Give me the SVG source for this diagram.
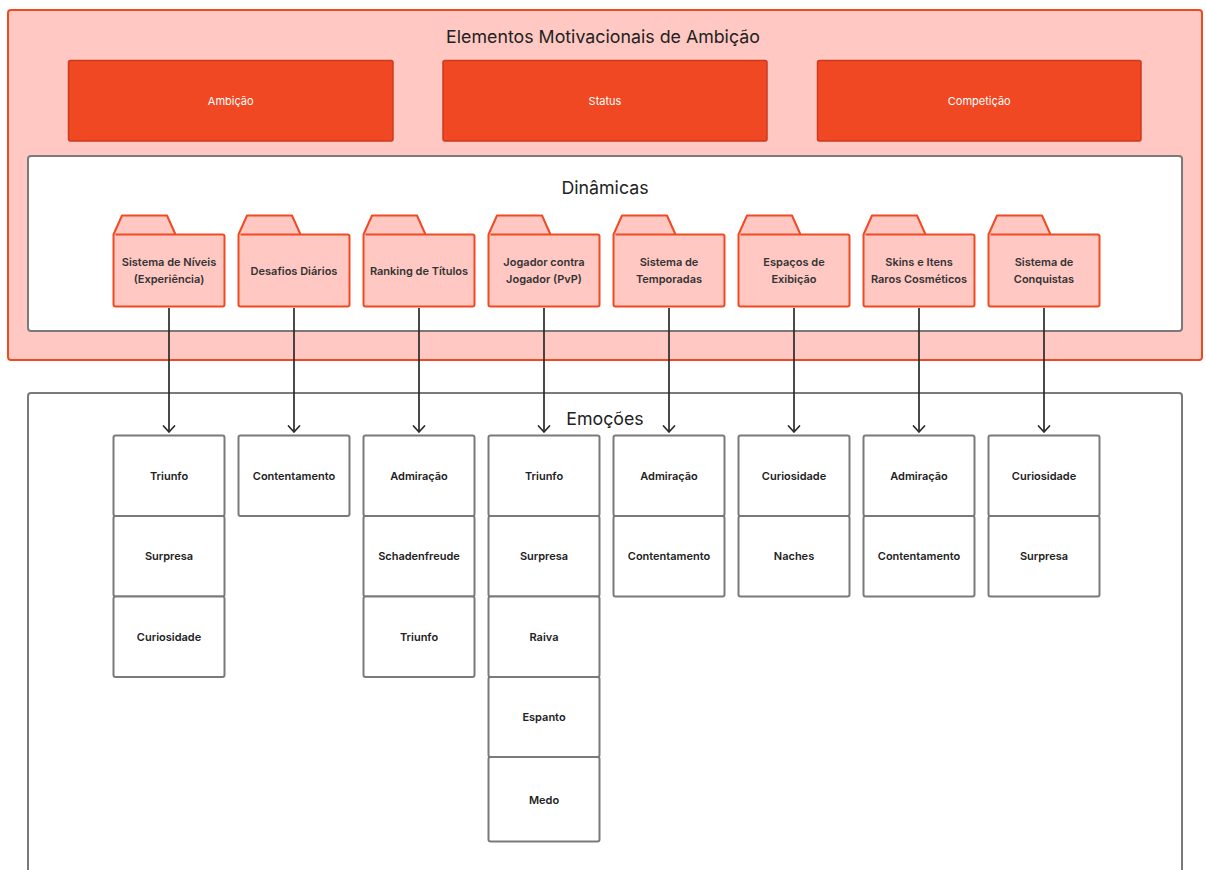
<svg xmlns="http://www.w3.org/2000/svg" width="1206" height="870" viewBox="0 0 1206 870">
  <defs>
    <style>
      text { font-family: Inter, "Noto Sans", "Liberation Sans", sans-serif; text-anchor: middle; dominant-baseline: central; }
      .outer { fill: #FFC8C3; stroke: #F04A23; stroke-width: 2; }
      .panel { fill: #FFFFFF; stroke: #7A7A7A; stroke-width: 2; }
      .pillar { fill: #F04822; stroke: #CC3A1E; stroke-width: 1.5; }
      .pillar-t { fill: #FFFFFF; font-size: 11px; }
      .title { fill: #222222; font-size: 17.8px; }
      .folder { fill: #FFC8C3; stroke: #F04A23; stroke-width: 2; stroke-linejoin: round; }
      .folder-t { fill: #333333; font-size: 11px; font-weight: 600; }
      .emo { fill: #FFFFFF; stroke: #7A7A7A; stroke-width: 2; }
      .emo-t { fill: #222222; font-size: 11px; font-weight: 600; }
      .link { stroke: #2A2A2A; stroke-width: 1.7; fill: none; marker-end: url(#arrow); }
    </style>
    <marker id="arrow" markerWidth="14" markerHeight="14" refX="11" refY="7" orient="auto" markerUnits="userSpaceOnUse" viewBox="0 0 14 14">
      <path d="M5 1.5 L11 7 L5 12.5" fill="none" stroke="#2A2A2A" stroke-width="1.7" stroke-linecap="round" stroke-linejoin="round"/>
    </marker>
    <!-- folder outline, origin at body top-left -->
    <path id="folderShape" d="M2 0 H109 A2 2 0 0 1 111 2 V70 A2 2 0 0 1 109 72 H2 A2 2 0 0 1 0 70 V0 L8.5 -19 H53.5 L62 0"/>
  </defs>

  <!-- outer group: motivational elements -->
  <g id="ambicao-group">
    <rect class="outer" x="8" y="10" width="1194" height="350" rx="3"/>
    <text class="title" x="603" y="36">Elementos Motivacionais de Ambição</text>
  </g>

  <g id="pilar-ambicao">
    <rect class="pillar" x="68.5" y="60.5" width="324.5" height="80.5" rx="2"/>
    <text class="pillar-t" x="230.75" y="101">Ambição</text>
  </g>
  <g id="pilar-status">
    <rect class="pillar" x="443" y="60.5" width="324" height="80.5" rx="2"/>
    <text class="pillar-t" x="605" y="101">Status</text>
  </g>
  <g id="pilar-competicao">
    <rect class="pillar" x="817.5" y="60.5" width="323.5" height="80.5" rx="2"/>
    <text class="pillar-t" x="979.25" y="101">Competição</text>
  </g>

  <g id="dinamicas">
    <rect class="panel" x="28" y="156" width="1154" height="175" rx="3"/>
    <text class="title" x="605" y="187">Dinâmicas</text>
  </g>

  <g id="emocoes">
    <rect class="panel" x="28" y="393" width="1154" height="500" rx="3"/>
    <text class="title" x="605" y="418">Emoções</text>
  </g>

  <!-- dynamics (folders) -->
  <g id="d-niveis">
    <use href="#folderShape" class="folder" x="113.5" y="234.5"/>
    <text class="folder-t" x="169" y="262">Sistema de Níveis</text>
    <text class="folder-t" x="169" y="279">(Experiência)</text>
  </g>
  <g id="d-desafios">
    <use href="#folderShape" class="folder" x="238.5" y="234.5"/>
    <text class="folder-t" x="294" y="270.5">Desafios Diários</text>
  </g>
  <g id="d-ranking">
    <use href="#folderShape" class="folder" x="363.5" y="234.5"/>
    <text class="folder-t" x="419" y="270.5">Ranking de Títulos</text>
  </g>
  <g id="d-pvp">
    <use href="#folderShape" class="folder" x="488.5" y="234.5"/>
    <text class="folder-t" x="544" y="262">Jogador contra</text>
    <text class="folder-t" x="544" y="279">Jogador (PvP)</text>
  </g>
  <g id="d-temporadas">
    <use href="#folderShape" class="folder" x="613.5" y="234.5"/>
    <text class="folder-t" x="669" y="262">Sistema de</text>
    <text class="folder-t" x="669" y="279">Temporadas</text>
  </g>
  <g id="d-exibicao">
    <use href="#folderShape" class="folder" x="738.5" y="234.5"/>
    <text class="folder-t" x="794" y="262">Espaços de</text>
    <text class="folder-t" x="794" y="279">Exibição</text>
  </g>
  <g id="d-skins">
    <use href="#folderShape" class="folder" x="863.5" y="234.5"/>
    <text class="folder-t" x="919" y="262">Skins e Itens</text>
    <text class="folder-t" x="919" y="279">Raros Cosméticos</text>
  </g>
  <g id="d-conquistas">
    <use href="#folderShape" class="folder" x="988.5" y="234.5"/>
    <text class="folder-t" x="1044" y="262">Sistema de</text>
    <text class="folder-t" x="1044" y="279">Conquistas</text>
  </g>

  <!-- connectors -->
  <g id="connectors">
    <line class="link" x1="169" y1="308" x2="169" y2="432"/>
    <line class="link" x1="294" y1="308" x2="294" y2="432"/>
    <line class="link" x1="419" y1="308" x2="419" y2="432"/>
    <line class="link" x1="544" y1="308" x2="544" y2="432"/>
    <line class="link" x1="669" y1="308" x2="669" y2="432"/>
    <line class="link" x1="794" y1="308" x2="794" y2="432"/>
    <line class="link" x1="919" y1="308" x2="919" y2="432"/>
    <line class="link" x1="1044" y1="308" x2="1044" y2="432"/>
  </g>

  <!-- emotions per dynamic -->
  <g id="e-niveis">
    <rect class="emo" x="113.5" y="435.5" width="111" height="80.5" rx="2"/>
    <text class="emo-t" x="169" y="476">Triunfo</text>
    <rect class="emo" x="113.5" y="516" width="111" height="80.5" rx="2"/>
    <text class="emo-t" x="169" y="556">Surpresa</text>
    <rect class="emo" x="113.5" y="596.5" width="111" height="80.5" rx="2"/>
    <text class="emo-t" x="169" y="636.5">Curiosidade</text>
  </g>
  <g id="e-desafios">
    <rect class="emo" x="238.5" y="435.5" width="111" height="80.5" rx="2"/>
    <text class="emo-t" x="294" y="476">Contentamento</text>
  </g>
  <g id="e-ranking">
    <rect class="emo" x="363.5" y="435.5" width="111" height="80.5" rx="2"/>
    <text class="emo-t" x="419" y="476">Admiração</text>
    <rect class="emo" x="363.5" y="516" width="111" height="80.5" rx="2"/>
    <text class="emo-t" x="419" y="556">Schadenfreude</text>
    <rect class="emo" x="363.5" y="596.5" width="111" height="80.5" rx="2"/>
    <text class="emo-t" x="419" y="636.5">Triunfo</text>
  </g>
  <g id="e-pvp">
    <rect class="emo" x="488.5" y="435.5" width="111" height="80.5" rx="2"/>
    <text class="emo-t" x="544" y="476">Triunfo</text>
    <rect class="emo" x="488.5" y="516" width="111" height="80.5" rx="2"/>
    <text class="emo-t" x="544" y="556">Surpresa</text>
    <rect class="emo" x="488.5" y="596.5" width="111" height="80.5" rx="2"/>
    <text class="emo-t" x="544" y="636.5">Raiva</text>
    <rect class="emo" x="488.5" y="677" width="111" height="80" rx="2"/>
    <text class="emo-t" x="544" y="717">Espanto</text>
    <rect class="emo" x="488.5" y="757" width="111" height="84.5" rx="2"/>
    <text class="emo-t" x="544" y="799.5">Medo</text>
  </g>
  <g id="e-temporadas">
    <rect class="emo" x="613.5" y="435.5" width="111" height="80.5" rx="2"/>
    <text class="emo-t" x="669" y="476">Admiração</text>
    <rect class="emo" x="613.5" y="516" width="111" height="80.5" rx="2"/>
    <text class="emo-t" x="669" y="556">Contentamento</text>
  </g>
  <g id="e-exibicao">
    <rect class="emo" x="738.5" y="435.5" width="111" height="80.5" rx="2"/>
    <text class="emo-t" x="794" y="476">Curiosidade</text>
    <rect class="emo" x="738.5" y="516" width="111" height="80.5" rx="2"/>
    <text class="emo-t" x="794" y="556">Naches</text>
  </g>
  <g id="e-skins">
    <rect class="emo" x="863.5" y="435.5" width="111" height="80.5" rx="2"/>
    <text class="emo-t" x="919" y="476">Admiração</text>
    <rect class="emo" x="863.5" y="516" width="111" height="80.5" rx="2"/>
    <text class="emo-t" x="919" y="556">Contentamento</text>
  </g>
  <g id="e-conquistas">
    <rect class="emo" x="988.5" y="435.5" width="111" height="80.5" rx="2"/>
    <text class="emo-t" x="1044" y="476">Curiosidade</text>
    <rect class="emo" x="988.5" y="516" width="111" height="80.5" rx="2"/>
    <text class="emo-t" x="1044" y="556">Surpresa</text>
  </g>
</svg>
